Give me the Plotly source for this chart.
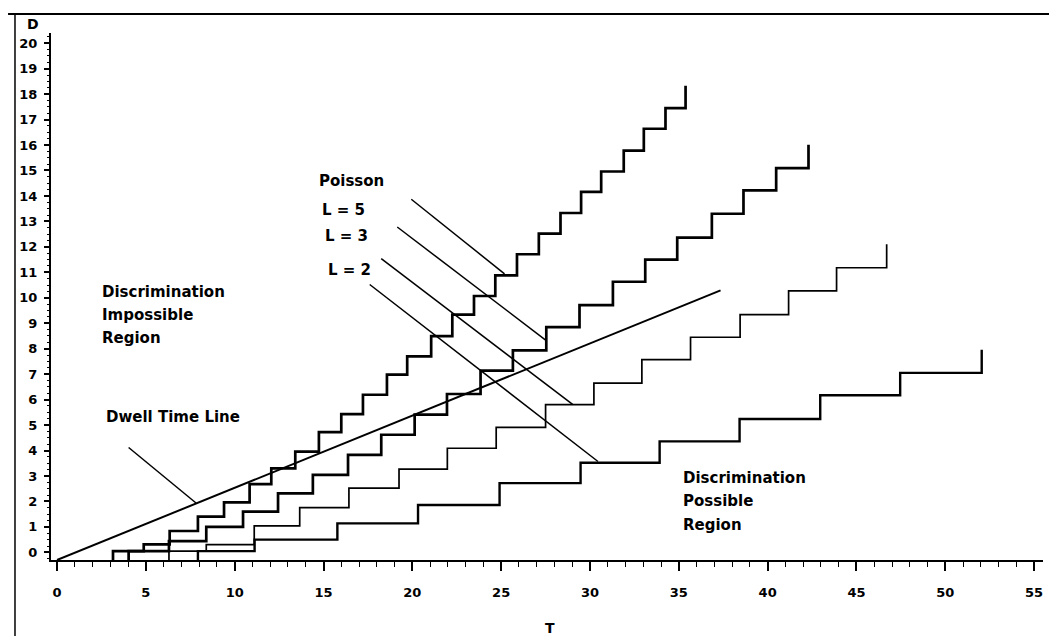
import plotly.graph_objects as go

# ---------------- data ----------------
# Poisson step curves: step time T and level D reached at that time
L5_T = [3.15, 4.88, 6.34, 7.93, 9.40, 10.84, 12.06, 13.41, 14.74, 16.00, 17.22, 18.57, 19.71,
        21.06, 22.25, 23.47, 24.67, 25.89, 27.12, 28.34, 29.50, 30.63, 31.90, 33.03, 34.25, 35.38]
L5_D = [0.05, 0.31, 0.84, 1.40, 1.96, 2.68, 3.30, 3.96, 4.72, 5.43, 6.19, 6.98, 7.70,
        8.49, 9.34, 10.07, 10.88, 11.71, 12.52, 13.33, 14.16, 14.96, 15.78, 16.64, 17.45, 18.33]

L3_T = [4.03, 6.30, 8.40, 10.47, 12.44, 14.40, 16.38, 18.25, 20.13, 21.95, 23.84, 25.66,
        27.54, 29.41, 31.29, 33.11, 34.91, 36.86, 38.64, 40.48, 42.30]
L3_D = [0.05, 0.44, 1.00, 1.60, 2.32, 3.04, 3.83, 4.62, 5.41, 6.22, 7.14, 7.93,
        8.85, 9.71, 10.63, 11.50, 12.36, 13.30, 14.22, 15.09, 16.01]

L2_T = [6.30, 8.40, 11.10, 13.66, 16.43, 19.25, 21.97, 24.72, 27.50, 30.22, 32.92, 35.66,
        38.45, 41.18, 43.88, 46.70]
L2_D = [0.05, 0.30, 1.04, 1.76, 2.52, 3.27, 4.09, 4.91, 5.80, 6.65, 7.57, 8.45,
        9.34, 10.27, 11.18, 12.10]

LB_T = [7.93, 11.12, 15.78, 20.32, 24.91, 29.47, 33.92, 38.42, 42.96, 47.46, 52.05]
LB_D = [0.05, 0.50, 1.14, 1.86, 2.72, 3.52, 4.36, 5.24, 6.17, 7.05, 7.96]

# Dwell time line
DWELL_T = [0.0, 37.35]
DWELL_D = [-0.30, 10.29]

# Leader lines (label -> curve)
LEAD_T0 = [19.94, 19.15, 18.25, 17.60, 4.03]
LEAD_D0 = [13.87, 12.78, 11.54, 10.52, 4.12]
LEAD_T1 = [25.19, 27.54, 29.04, 30.45, 7.84]
LEAD_D1 = [10.94, 8.32, 5.80, 3.57, 1.93]

X_TICKS = list(range(0, 56, 5))
Y_TICKS = list(range(0, 21))
X_RANGE = [-0.34, 55.5]
Y_RANGE = [-0.30, 20.4]

FONT = "DejaVu Sans"

fig = go.Figure()

def step_trace(ts, ds, width):
    xs = [ts[0]] + ts
    ys = [Y_RANGE[0]] + ds
    return go.Scatter(x=xs, y=ys, mode="lines", line=dict(color="black", width=width, shape="hv"),
                      showlegend=False, hoverinfo="skip", cliponaxis=False)

fig.add_trace(step_trace(L5_T, L5_D, 2.7))
fig.add_trace(step_trace(L3_T, L3_D, 2.7))
fig.add_trace(step_trace(L2_T, L2_D, 1.7))
fig.add_trace(step_trace(LB_T, LB_D, 2.4))

fig.add_trace(go.Scatter(x=DWELL_T, y=DWELL_D, mode="lines", line=dict(color="black", width=2),
                         showlegend=False, hoverinfo="skip", cliponaxis=False))

for t0, d0, t1, d1 in zip(LEAD_T0, LEAD_D0, LEAD_T1, LEAD_D1):
    fig.add_trace(go.Scatter(x=[t0, t1], y=[d0, d1], mode="lines",
                             line=dict(color="black", width=1.5),
                             showlegend=False, hoverinfo="skip"))

lab_font = dict(family=FONT, size=15, color="black", weight="bold")
labels = [
    ("Dwell Time Line", 2.65, 5.31),
    ("Discrimination", 2.44, 10.23),
    ("Impossible", 2.44, 9.34),
    ("Region", 2.44, 8.42),
    ("Poisson", 14.66, 14.58),
    ("L = 5", 14.79, 13.46),
    ("L = 3", 14.98, 12.42),
    ("L = 2", 15.13, 11.10),
    ("Discrimination", 35.12, 2.92),
    ("Possible", 35.12, 2.01),
    ("Region", 35.12, 1.09),
]
for txt, x, y in labels:
    fig.add_annotation(x=x, y=y, xref="x", yref="y", text=txt, showarrow=False,
                       xanchor="left", yanchor="middle", font=lab_font)

fig.add_annotation(x=-0.018, y=1.017, xref="paper", yref="paper", text="D", showarrow=False,
                   xanchor="center", yanchor="middle", font=dict(family=FONT, size=14, color="black", weight="bold"))
fig.add_annotation(x=0.5027, y=-0.129, xref="paper", yref="paper", text="T", showarrow=False,
                   xanchor="center", yanchor="middle", font=dict(family=FONT, size=14, color="black", weight="bold"))

# frame lines (top and left)
fig.add_shape(type="line", xref="paper", yref="paper", x0=-0.0433, x1=1.0222, y0=1.036, y1=1.036,
              line=dict(color="black", width=2))
fig.add_shape(type="line", xref="paper", yref="paper", x0=-0.0363, x1=-0.0363, y0=1.036, y1=-0.1594,
              line=dict(color="black", width=1.5))

tick_font = dict(family=FONT, size=13, color="black", weight="bold")
fig.update_xaxes(range=X_RANGE, tickmode="array", tickvals=X_TICKS, ticktext=[str(v) for v in X_TICKS],
                 showline=True, linecolor="black", linewidth=2, showgrid=False, zeroline=False,
                 ticks="outside", ticklen=9, tickwidth=1.5, tickcolor="black",
                 minor=dict(dtick=1, tick0=0, ticks="outside", ticklen=5, tickwidth=1, tickcolor="black"),
                 tickfont=tick_font, ticklabelstandoff=10)
fig.update_yaxes(range=Y_RANGE, tickmode="array", tickvals=Y_TICKS, ticktext=[str(v) for v in Y_TICKS],
                 showline=True, linecolor="black", linewidth=2, showgrid=False, zeroline=False,
                 ticks="outside", ticklen=5, tickwidth=1.5, tickcolor="black",
                 minor=dict(dtick=0.25, tick0=0, ticks="outside", ticklen=2.5, tickwidth=1, tickcolor="black"),
                 tickfont=tick_font, ticklabelstandoff=4)

fig.update_layout(width=1057, height=636, autosize=False,
                  margin=dict(l=43, r=22, t=25, b=84),
                  paper_bgcolor="white", plot_bgcolor="white", showlegend=False)

fig.write_html("out.html")
